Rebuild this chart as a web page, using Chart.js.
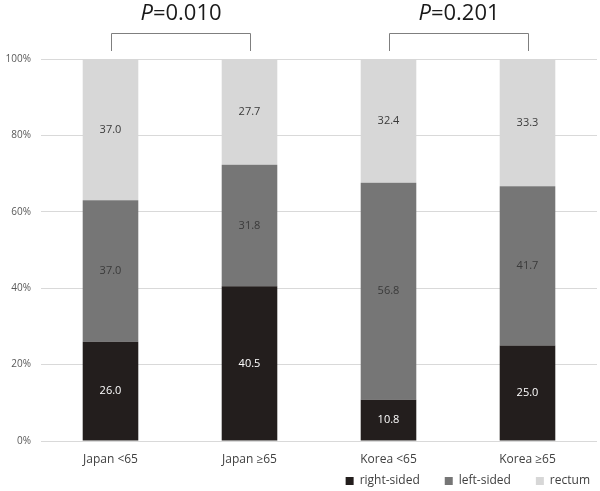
<!DOCTYPE html>
<html>
<head>
<meta charset="utf-8">
<script src="https://cdn.jsdelivr.net/npm/chart.js@4"></script>
<style>
html,body{margin:0;padding:0;background:#fff;}
#wrap{width:600px;height:491px;}
</style>
</head>
<body>
<div id="wrap"><canvas id="c" width="600" height="491"></canvas></div>
<script>
const categories = ["Japan <65", "Japan \u226565", "Korea <65", "Korea \u226565"];
const rightSided = [26.0, 40.5, 10.8, 25.0];
const leftSided = [37.0, 31.8, 56.8, 41.7];
const rectum = [37.0, 27.7, 32.4, 33.3];
const yTicks = [0, 20, 40, 60, 80, 100];
const comparisons = [
  {from: 0, to: 1, p: "0.010"},
  {from: 2, to: 3, p: "0.201"}
];

const FONT = "'Open Sans', sans-serif";

const labelPlugin = {
  id: 'segLabels',
  afterDatasetsDraw(chart) {
    const ctx = chart.ctx;
    ctx.save();
    ctx.font = "11px " + FONT;
    ctx.textAlign = 'center';
    ctx.textBaseline = 'middle';
    chart.data.datasets.forEach((ds, di) => {
      const meta = chart.getDatasetMeta(di);
      meta.data.forEach((bar, i) => {
        const v = ds.data[i];
        const y = (bar.y + bar.base) / 2;
        ctx.fillStyle = di === 0 ? '#ffffff' : '#3a3a3a';
        ctx.fillText(v.toFixed(1), bar.x, y);
      });
    });
    ctx.restore();
  }
};

const bracketPlugin = {
  id: 'brackets',
  afterDraw(chart) {
    const ctx = chart.ctx;
    const xs = chart.scales.x;
    ctx.save();
    comparisons.forEach(c => {
      const x1 = Math.round(xs.getPixelForValue(c.from)) + 0.5;
      const x2 = Math.round(xs.getPixelForValue(c.to)) + 0.5;
      const top = 33.5, bot = 51;
      ctx.strokeStyle = '#7f7f7f';
      ctx.lineWidth = 1;
      ctx.beginPath();
      ctx.moveTo(x1, bot);
      ctx.lineTo(x1, top);
      ctx.lineTo(x2, top);
      ctx.lineTo(x2, bot);
      ctx.stroke();
      const mid = (x1 + x2) / 2;
      ctx.fillStyle = '#1a1a1a';
      ctx.textBaseline = 'middle';
      const italic = "italic 22px " + FONT;
      const normal = "22px " + FONT;
      ctx.font = italic;
      const wP = ctx.measureText("P").width;
      ctx.font = normal;
      const wR = ctx.measureText("=" + c.p).width;
      const start = mid - (wP + wR) / 2;
      ctx.textAlign = 'left';
      ctx.font = italic;
      ctx.fillText("P", start, 14);
      ctx.font = normal;
      ctx.fillText("=" + c.p, start + wP, 14);
    });
    ctx.restore();
  }
};

const legendFitPlugin = {
  id: 'legendFit',
  afterInit(chart) {
    const lg = chart.legend;
    if (!lg) return;
    const orig = lg.fit;
    lg.fit = function() {
      orig.call(this);
      this.height = 23;
    };
  },
  afterLayout(chart) {
    const lg = chart.legend;
    if (!lg) return;
    lg.top -= 18;
    lg.height = lg.bottom - lg.top;
    lg.left += 18; lg.right += 18;
  }
};

new Chart(document.getElementById('c'), {
  type: 'bar',
  data: {
    labels: categories,
    datasets: [
      {label: 'right-sided', data: rightSided, backgroundColor: '#231e1d'},
      {label: 'left-sided', data: leftSided, backgroundColor: '#767676'},
      {label: 'rectum', data: rectum, backgroundColor: '#d7d7d7'}
    ]
  },
  options: {
    responsive: false,
    animation: false,
    layout: {padding: {top: 59, right: 3, left: 0, bottom: 0}},
    datasets: {bar: {categoryPercentage: 1.0, barPercentage: 0.4}},
    plugins: {
      legend: {
        position: 'bottom',
        align: 'end',
        labels: {
          boxWidth: 8, boxHeight: 8, padding: 25,
          color: '#404040',
          font: {family: FONT, size: 12}
        }
      },
      tooltip: {enabled: false}
    },
    scales: {
      x: {
        stacked: true,
        afterFit(s) { s.height = 27; },
        grid: {display: false, drawTicks: false},
        border: {display: false},
        ticks: {color: '#404040', font: {family: FONT, size: 12}, padding: 11}
      },
      y: {
        stacked: true,
        min: 0, max: 100,
        afterFit(s) { s.width = 41; },
        afterBuildTicks(s) { s.ticks = yTicks.map(v => ({value: v})); },
        grid: {color: '#d9d9d9', drawTicks: false},
        border: {display: false},
        ticks: {
          color: '#595959', padding: 10,
          font: {family: FONT, size: 10},
          callback: v => v + '%'
        }
      }
    }
  },
  plugins: [labelPlugin, bracketPlugin, legendFitPlugin]
});
</script>
</body>
</html>
